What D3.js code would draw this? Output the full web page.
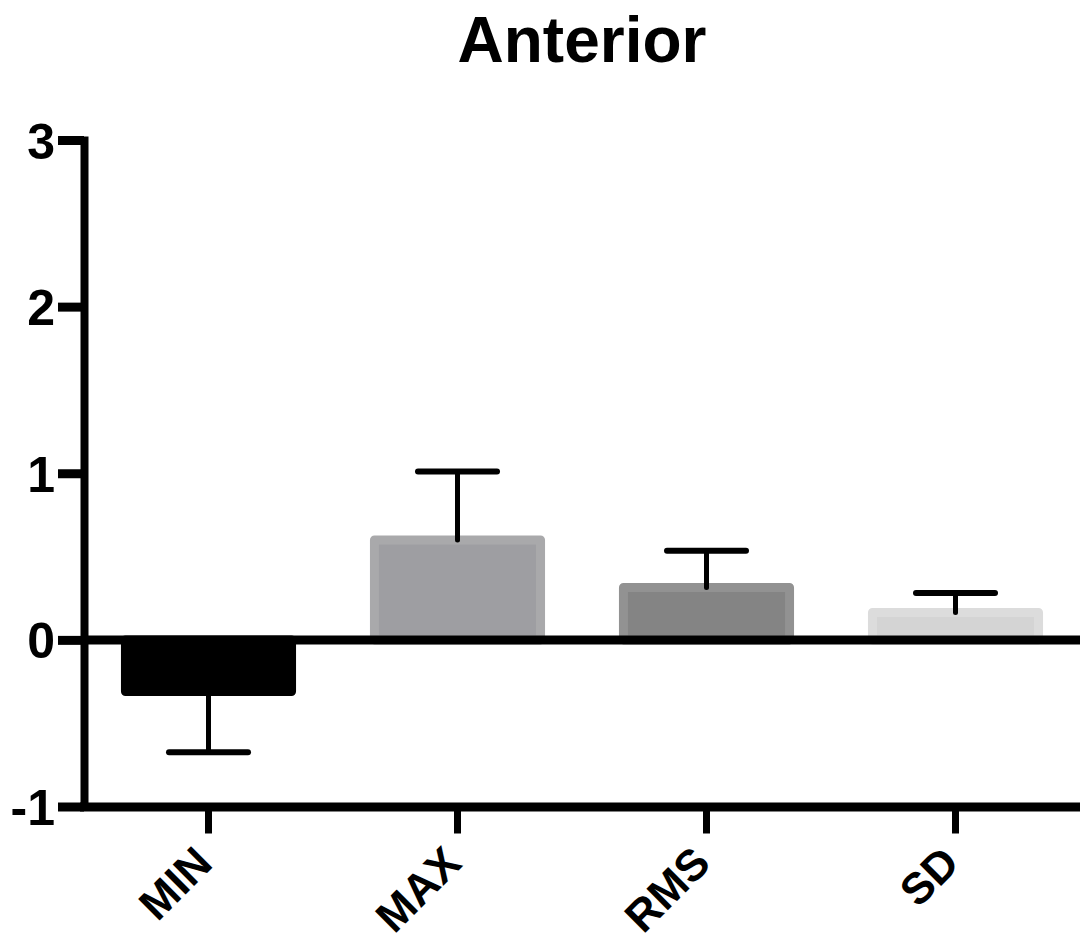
<!DOCTYPE html>
<html>
<head>
<meta charset="utf-8">
<script src="https://cdn.jsdelivr.net/npm/d3@7"></script>
<style>
  html, body { margin: 0; padding: 0; background: #fff; }
  svg { display: block; }
  text { font-family: "Liberation Sans", Arial, sans-serif; font-weight: bold; fill: #000; }
</style>
</head>
<body>
<svg id="chart" width="1080" height="942"></svg>
<script>
// ---- data ----
const chartTitle = "Anterior";
const categories = ["MIN", "MAX", "RMS", "SD"];
const means = [-0.31, 0.60, 0.315, 0.165];
const errors = [0.365, 0.41, 0.22, 0.117];
const yTicks = [-1, 0, 1, 2, 3];
const fills = ["#000000", "#9e9ea2", "#848484", "#d4d4d4"];
const strokes = ["#000000", "#a9a9ab", "#929292", "#dcdcdc"];

(function () {
const svg = d3.select("#chart");
const mLeft = 84, mRight = 1080, mTop = 140, mBottom = 806.5;

const y = d3.scaleLinear().domain([-1, 3]).range([mBottom, mTop]);
const x = d3.scaleBand().domain(categories).range([mLeft, mRight])
  .paddingInner(0.333).paddingOuter(0.1665);

// title
svg.append("text").attr("x", (mLeft + mRight) / 2).attr("y", 62)
  .attr("text-anchor", "middle").style("font-size", "64px").text(chartTitle);

// bars
const data = categories.map((c, i) => ({ c, v: means[i], e: errors[i], f: fills[i], s: strokes[i] }));
svg.append("g").selectAll("rect").data(data).join("rect")
  .attr("x", d => x(d.c))
  .attr("width", x.bandwidth())
  .attr("y", d => y(Math.max(0, d.v)))
  .attr("height", d => Math.abs(y(d.v) - y(0)))
  .attr("fill", d => d.f)
  .attr("stroke", d => d.s)
  .attr("stroke-width", 9)
  .attr("stroke-linejoin", "round");

// error bars (one-sided, away from zero)
const eb = svg.append("g").attr("stroke", "#000").attr("stroke-linecap", "round");
data.forEach(d => {
  const cx = x(d.c) + x.bandwidth() / 2;
  const end = d.v + Math.sign(d.v) * d.e;
  eb.append("line").attr("x1", cx).attr("x2", cx)
    .attr("y1", y(d.v)).attr("y2", y(end)).attr("stroke-width", 5);
  eb.append("line").attr("x1", cx - 39.5).attr("x2", cx + 39.5)
    .attr("y1", y(end)).attr("y2", y(end)).attr("stroke-width", 6);
});

// zero line
svg.append("line").attr("x1", mLeft).attr("x2", mRight)
  .attr("y1", y(0)).attr("y2", y(0))
  .attr("stroke", "#000").attr("stroke-width", 9);

// y axis
const yAxis = svg.append("g").attr("transform", `translate(${mLeft},0)`)
  .call(d3.axisLeft(y).tickValues(yTicks).tickFormat(d => String(d))
    .tickSize(26).tickSizeOuter(0).tickPadding(3));
yAxis.select(".domain").attr("stroke-width", 8).attr("stroke-linecap", "square");
yAxis.selectAll(".tick line").attr("stroke-width", 9);
yAxis.selectAll(".tick text").style("font-size", "50px").attr("font-family", null)
  .attr("dy", "0.36em").attr("fill", "#000");

// x axis
const xAxis = svg.append("g").attr("transform", `translate(0,${y(-1)})`)
  .call(d3.axisBottom(x).tickSize(27).tickSizeOuter(0));
xAxis.select(".domain").attr("stroke-width", 9).attr("stroke-linecap", "square");
xAxis.selectAll(".tick line").attr("stroke-width", 7);
xAxis.selectAll(".tick text")
  .attr("y", null).attr("dy", null).attr("font-family", null)
  .attr("text-anchor", "end")
  .attr("transform", "translate(6,59) rotate(-45)")
  .style("font-size", "44px").attr("fill", "#000");
})();
</script>
</body>
</html>
